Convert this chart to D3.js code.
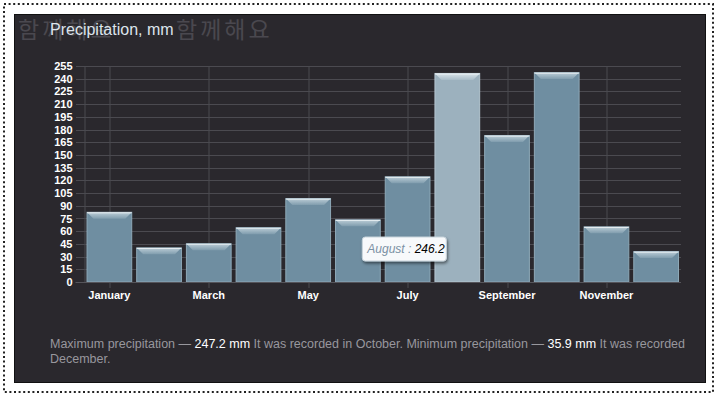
<!DOCTYPE html>
<html>
<head>
<meta charset="utf-8">
<script src="https://cdn.jsdelivr.net/npm/d3@7"></script>
<style>
  body { margin: 0; background: #ffffff; }
  svg { display: block; font-family: "Liberation Sans", Arial, sans-serif; }
</style>
</head>
<body>
<div id="chart"></div>
<script>
// chart data
var months = ["January", "February", "March", "April", "May", "June",
  "July", "August", "September", "October", "November", "December"];
var precipitation = [82.3, 40.3, 45.2, 64.1, 98.5, 73.4, 124.2, 246.2, 172.9, 247.2, 65.1, 35.9];
var yTicks = [0, 15, 30, 45, 60, 75, 90, 105, 120, 135, 150, 165, 180, 195, 210, 225, 240, 255];
var xTickLabels = ["January", "March", "May", "July", "September", "November"];
var hoverMonth = "August";

var svgWidth = 720;
var svgHeight = 399;

var margin = { top: 66, right: 39, bottom: 117, left: 84.5 };
var width = svgWidth - margin.left - margin.right;
var height = svgHeight - margin.top - margin.bottom;

var svg = d3.select("#chart")
  .append("svg")
  .attr("width", svgWidth)
  .attr("height", svgHeight);

// dotted outer frame and the dark panel
svg.append("rect")
  .attr("x", 4).attr("y", 4)
  .attr("width", 709).attr("height", 388)
  .attr("fill", "none")
  .attr("stroke", "#222")
  .attr("stroke-width", 2)
  .attr("stroke-dasharray", "2,2.6");

svg.append("rect")
  .attr("x", 14.5).attr("y", 14.5)
  .attr("width", 691).attr("height", 368)
  .attr("fill", "#2a282d")
  .attr("stroke", "#111")
  .attr("stroke-width", 1);

// korean watermark behind the title
svg.append("text")
  .attr("x", 18).attr("y", 38)
  .attr("font-size", 23)
  .attr("letter-spacing", 3)
  .attr("font-family", "'Noto Sans CJK KR', sans-serif")
  .attr("fill", "#4a484f")
  .text("함께해요");
svg.append("text")
  .attr("x", 176).attr("y", 38)
  .attr("font-size", 23)
  .attr("letter-spacing", 3)
  .attr("font-family", "'Noto Sans CJK KR', sans-serif")
  .attr("fill", "#4a484f")
  .text("함께해요");

svg.append("text")
  .attr("x", 50).attr("y", 35)
  .attr("font-size", 16)
  .attr("fill", "#dde4ec")
  .text("Precipitation, mm");

var chartGroup = svg.append("g")
  .attr("transform", `translate(${margin.left}, ${margin.top})`);

var xBandScale = d3.scaleBand()
  .domain(months)
  .range([0, width])
  .paddingInner(0.1)
  .paddingOuter(0.05);

var yLinearScale = d3.scaleLinear()
  .domain([0, 255])
  .range([height, 0]);

// horizontal grid + y labels
var leftAxis = d3.axisLeft(yLinearScale)
  .tickValues(yTicks)
  .tickSize(-width - 9)
  .tickPadding(3);

var yAxis = chartGroup.append("g")
  .attr("transform", "translate(-9, 0)")
  .call(leftAxis);
yAxis.select(".domain").remove();
yAxis.selectAll("line").attr("stroke", "#4b4a50").attr("shape-rendering", "crispEdges");
yAxis.selectAll("text")
  .attr("fill", "#ffffff")
  .attr("font-size", 11)
  .attr("font-weight", "bold");

// vertical grid lines at the labelled months
chartGroup.append("g")
  .selectAll("line")
  .data(xTickLabels)
  .enter()
  .append("line")
  .attr("x1", d => Math.round(xBandScale(d) + xBandScale.bandwidth() / 2) + 0.5)
  .attr("x2", d => Math.round(xBandScale(d) + xBandScale.bandwidth() / 2) + 0.5)
  .attr("y1", 0)
  .attr("y2", height + 6)
  .attr("stroke", "#4b4a50");

chartGroup.append("line")
  .attr("x1", 0.5).attr("x2", 0.5)
  .attr("y1", 0).attr("y2", height)
  .attr("stroke", "#4b4a50");

// bars
var defs = svg.append("defs");
function bevel(id, top, base) {
  var g = defs.append("linearGradient")
    .attr("id", id).attr("x1", 0).attr("y1", 0).attr("x2", 0).attr("y2", 1);
  g.append("stop").attr("offset", "0%").attr("stop-color", top);
  g.append("stop").attr("offset", "100%").attr("stop-color", base);
}
bevel("bevelNormal", "#b8cad4", "#7f9cad");
bevel("bevelHover", "#d6e1e7", "#a8bcc8");

var barsGroup = chartGroup.append("g")
  .selectAll("g")
  .data(months)
  .enter()
  .append("g");

barsGroup.append("rect")
  .attr("x", d => xBandScale(d))
  .attr("y", (d, i) => yLinearScale(precipitation[i]))
  .attr("width", xBandScale.bandwidth())
  .attr("height", (d, i) => height - yLinearScale(precipitation[i]))
  .attr("fill", d => d === hoverMonth ? "#9cb1be" : "#6f8ea1")
  .attr("stroke", d => d === hoverMonth ? "#b4c6d0" : "#8ea9b8")
  .attr("stroke-width", 1);

barsGroup.append("path")
  .attr("d", (d, i) => {
    var x0 = xBandScale(d) + 0.5;
    var x1 = xBandScale(d) + xBandScale.bandwidth() - 0.5;
    var y0 = yLinearScale(precipitation[i]) + 0.5;
    return `M${x0},${y0}L${x1},${y0}L${x1 - 6},${y0 + 6}L${x0 + 6},${y0 + 6}Z`;
  })
  .attr("fill", d => d === hoverMonth ? "url(#bevelHover)" : "url(#bevelNormal)");

barsGroup.append("line")
  .attr("x1", d => xBandScale(d))
  .attr("x2", d => xBandScale(d) + xBandScale.bandwidth())
  .attr("y1", (d, i) => yLinearScale(precipitation[i]) + 0.5)
  .attr("y2", (d, i) => yLinearScale(precipitation[i]) + 0.5)
  .attr("stroke", "#eef4f7")
  .attr("stroke-width", 1);

// x axis
var bottomAxis = d3.axisBottom(xBandScale)
  .tickValues(xTickLabels)
  .tickSize(0)
  .tickPadding(9);

var xAxis = chartGroup.append("g")
  .attr("transform", `translate(0, ${height})`)
  .call(bottomAxis);
xAxis.select(".domain").remove();
xAxis.selectAll("text")
  .attr("fill", "#ffffff")
  .attr("font-size", 11)
  .attr("font-weight", "bold");

chartGroup.append("line")
  .attr("x1", -9).attr("x2", width)
  .attr("y1", height + 0.5).attr("y2", height + 0.5)
  .attr("stroke", "#55545a");

// tooltip on August
var hoverIndex = months.indexOf(hoverMonth);
var tipX = xBandScale(hoverMonth) + xBandScale.bandwidth() / 2 - 95;
var tipY = yLinearScale(0) - 45;
var tip = chartGroup.append("g")
  .attr("transform", `translate(${tipX}, ${tipY})`);

var shadow = defs.append("filter").attr("id", "tipShadow")
  .attr("x", "-20%").attr("y", "-30%").attr("width", "140%").attr("height", "170%");
shadow.append("feDropShadow")
  .attr("dx", 1).attr("dy", 2).attr("stdDeviation", 1.5)
  .attr("flood-color", "#000").attr("flood-opacity", 0.5);

tip.append("rect")
  .attr("width", 84).attr("height", 24)
  .attr("rx", 3)
  .attr("fill", "#f7f9fb")
  .attr("stroke", "#c7d3db")
  .attr("filter", "url(#tipShadow)");

var tipText = tip.append("text")
  .attr("x", 5).attr("y", 16)
  .attr("font-size", 12)
  .attr("font-style", "italic");
tipText.append("tspan")
  .attr("fill", "#7a90a3")
  .text(hoverMonth + " : ");
tipText.append("tspan")
  .attr("fill", "#000")
  .text(precipitation[hoverIndex]);

// summary under the chart
var maxVal = d3.max(precipitation);
var minVal = d3.min(precipitation);
var maxMonth = months[precipitation.indexOf(maxVal)];
var minMonth = months[precipitation.indexOf(minVal)];

var note = svg.append("text")
  .attr("x", 50).attr("y", 348)
  .attr("font-size", 12.5)
  .attr("fill", "#98979d");
note.append("tspan").text("Maximum precipitation — ");
note.append("tspan").attr("fill", "#ffffff").text(maxVal + " mm");
note.append("tspan").text(" It was recorded in " + maxMonth + ". Minimum precipitation — ");
note.append("tspan").attr("fill", "#ffffff").text(minVal + " mm");
note.append("tspan").text(" It was recorded");
svg.append("text")
  .attr("x", 50).attr("y", 363)
  .attr("font-size", 12.5)
  .attr("fill", "#98979d")
  .text(minMonth + ".");
</script>
</body>
</html>
